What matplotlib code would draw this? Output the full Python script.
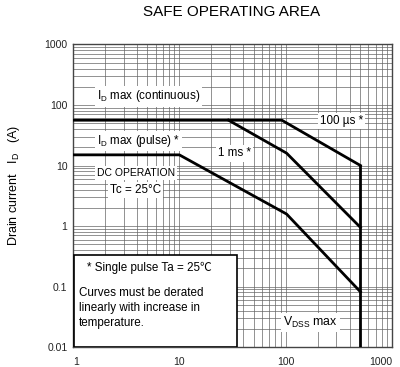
import matplotlib
matplotlib.use("Agg")
import matplotlib.pyplot as plt
from matplotlib.patches import Rectangle
from matplotlib.ticker import FixedLocator, FixedFormatter, LogLocator, NullFormatter

plt.rcParams['font.family'] = ['Liberation Sans', 'DejaVu Sans']
plt.rcParams['mathtext.fontset'] = 'custom'
plt.rcParams['mathtext.rm'] = 'Liberation Sans'
plt.rcParams['mathtext.it'] = 'Liberation Sans'

# drain-source voltage (V) / drain current (A) break points
pulse_100us_v = [1, 92, 505]
pulse_100us_i = [56, 56, 10]
pulse_1ms_v = [29, 102, 505]
pulse_1ms_i = [56, 16, 0.95]
dc_v = [1, 10, 102, 505]
dc_i = [15, 15, 1.58, 0.082]
vdss_v = [505, 505]
vdss_i = [10, 0.01]

x_ticks = [1, 10, 100, 1000]
x_labels = ["1", "10", "100", "1000"]
y_ticks = [0.01, 0.1, 1, 10, 100, 1000]
y_labels = ["0.01", "0.1", "1", "10", "100", "1000"]

fig = plt.figure(figsize=(4.0, 3.67), dpi=100)
ax = fig.add_axes([0.1825, 0.054, 0.7975, 0.825])
ax.set_xscale("log")
ax.set_yscale("log")
ax.set_xlim(1, 1000)
ax.set_ylim(0.01, 1000)

ax.xaxis.set_major_locator(FixedLocator(x_ticks))
ax.xaxis.set_major_formatter(FixedFormatter(x_labels))
ax.yaxis.set_major_locator(FixedLocator(y_ticks))
ax.yaxis.set_major_formatter(FixedFormatter(y_labels))
ax.xaxis.set_minor_locator(LogLocator(base=10, subs=range(2, 10)))
ax.yaxis.set_minor_locator(LogLocator(base=10, subs=range(2, 10)))
ax.xaxis.set_minor_formatter(NullFormatter())
ax.yaxis.set_minor_formatter(NullFormatter())
ax.tick_params(which="both", length=0, labelsize=7.5, colors="#222222")
ax.tick_params(axis="y", pad=4)
ax.tick_params(axis="x", pad=7)

xl = ax.get_xticklabels()
xl[0].set_ha("left")
xl[-1].set_ha("right")

ax.grid(True, which="both", color="#666666", linewidth=0.5)
for s in ax.spines.values():
    s.set_color("#444444")
    s.set_linewidth(1.0)

lw = 2.0
ax.plot(pulse_100us_v, pulse_100us_i, color="black", lw=lw, zorder=3)
ax.plot(pulse_1ms_v, pulse_1ms_i, color="black", lw=lw, zorder=3)
ax.plot(dc_v, dc_i, color="black", lw=lw, zorder=3)
ax.plot(vdss_v, vdss_i, color="black", lw=lw, zorder=3)

white = dict(facecolor="white", edgecolor="none", pad=1.5)
fs = 8.4
ax.text(0.075, 0.828, r"I$_\mathrm{D}$ max (continuous)", transform=ax.transAxes,
        fontsize=fs, va="center", ha="left", bbox=white, zorder=4)
ax.text(0.774, 0.746, "100 µs *", transform=ax.transAxes,
        fontsize=fs, va="center", ha="left", bbox=white, zorder=4)
ax.text(0.075, 0.681, r"I$_\mathrm{D}$ max (pulse) *", transform=ax.transAxes,
        fontsize=fs, va="center", ha="left", bbox=white, zorder=4)
ax.text(0.455, 0.640, "1 ms *", transform=ax.transAxes,
        fontsize=fs, va="center", ha="left", bbox=white, zorder=4)
ax.text(0.075, 0.574, "DC OPERATION", transform=ax.transAxes,
        fontsize=7.5, va="center", ha="left", bbox=white, zorder=4)
ax.text(0.116, 0.518, "Tc = 25°C", transform=ax.transAxes,
        fontsize=fs, va="center", ha="left", bbox=white, zorder=4)
ax.text(0.658, 0.082, r"V$_\mathrm{DSS}$ max", transform=ax.transAxes,
        fontsize=8.8, va="center", ha="left", bbox=white, zorder=4)

ax.add_patch(Rectangle((0.003, 0.0), 0.511, 0.304, transform=ax.transAxes,
                       facecolor="white", edgecolor="black", linewidth=1.2, zorder=4))
ax.text(0.044, 0.261, "* Single pulse Ta = 25℃", transform=ax.transAxes,
        fontsize=fs, va="center", ha="left", zorder=5,
        family=["Liberation Sans", "Noto Sans CJK JP", "DejaVu Sans"])
notes = ["Curves must be derated", "linearly with increase in", "temperature."]
for k, line in enumerate(notes):
    ax.text(0.019, 0.178 - k * 0.0495, line, transform=ax.transAxes,
            fontsize=fs, va="center", ha="left", zorder=5)

fig.text(0.58, 0.967, "SAFE OPERATING AREA", fontsize=11, ha="center", va="center")
fig.text(0.035, 0.496, r"Drain current   I$_\mathrm{D}$   (A)", fontsize=9,
         rotation=90, ha="center", va="center")

fig.savefig("out.png", dpi=100)
